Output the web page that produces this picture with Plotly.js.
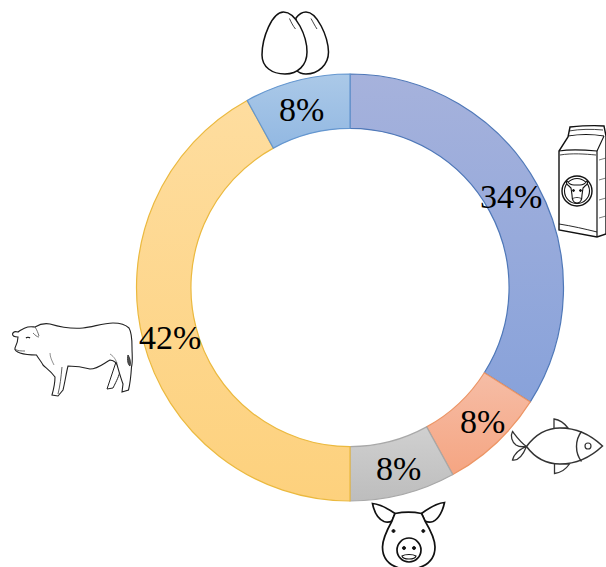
<!DOCTYPE html>
<html>
<head>
<meta charset="utf-8">
<script src="https://cdn.plot.ly/plotly-3.0.1.min.js"></script>
<style>html,body{margin:0;padding:0;background:#fff}#chart{width:606px;height:567px}</style>
</head>
<body>
<div id="chart"></div>
<script>
// Protein sources, clockwise from twelve o'clock
const sources = ['Milk', 'Fish', 'Pork', 'Beef', 'Eggs'];
const shares = [34, 8, 8, 42, 8];
const fillColors = ['#99abdb', '#f5b195', '#c7c7c7', '#fdd68c', '#9fc1e6'];
const edgeColors = ['#4f78b8', '#ec9565', '#a8a8a8', '#ebb93f', '#6496cf'];
const gradientStops = [
  ['#a6b2dc', '#88a2da'], ['#f6bda6', '#f5a582'], ['#d0d0d0', '#bdbdbd'],
  ['#fedd9f', '#fdd17d'], ['#abc9e8', '#92b8e2']
];

const W = 606, H = 567;

// Line icons are authored in page pixels and converted to paper coordinates
function toPaper(d) {
  return d.replace(/(-?[\d.]+)[ ,](-?[\d.]+)/g, (m, x, y) =>
    (parseFloat(x) / W).toFixed(5) + ',' + (1 - parseFloat(y) / H).toFixed(5));
}
function icon(d, width, fill, color) {
  return {
    type: 'path', xref: 'paper', yref: 'paper', layer: 'above', path: toPaper(d),
    line: {color: color || '#111', width: width}, fillcolor: fill || 'rgba(0,0,0,0)'
  };
}
function dot(cx, cy, r) {
  const k = r * 0.55;
  return `M${cx - r} ${cy} C${cx - r} ${cy - k} ${cx - k} ${cy - r} ${cx} ${cy - r} ` +
    `C${cx + k} ${cy - r} ${cx + r} ${cy - k} ${cx + r} ${cy} ` +
    `C${cx + r} ${cy + k} ${cx + k} ${cy + r} ${cx} ${cy + r} ` +
    `C${cx - k} ${cy + r} ${cx - r} ${cy + k} ${cx - r} ${cy} Z`;
}

const eggs = [
  icon('M306 12 C317 12 328 36 328.5 52 C328.5 65 318 74 306 74 C303 74 299 73 296 70 L296 18 C299 14 303 12 306 12 Z', 1.5, '#fff'),
  icon('M283.5 12 C272 12 262 38 262 55 C262 67 272 74 285 74 C298 74 307 65 307 52 C307 36 296 12 283.5 12 Z', 1.5, '#fff'),
  icon('M289.5 18.5 C291 22 293 26 295.5 29', 0.8),
  icon('M311 18.5 C313 22 315 26 317 29', 0.8)
];

const carton = [
  icon('M559 151 L559 230 L597 237 L606 234 L606 136 L604 126 C592 125 580 126 570 127 L568 137 Z', 1.4, '#fff'),
  icon('M568 136 C580 134 592 134 604 136', 1.1),
  icon('M569 131 C580 129 592 129 603 130', 0.8),
  icon('M559 151 C572 149 585 150 597 151 L597 237', 1.2),
  icon('M597 151 L604 136', 1.1),
  icon('M560 155 C572 153 585 154 596 155', 0.8),
  icon('M559 224 C572 226 585 229 597 232', 0.9),
  icon('M599 160 L606 158 M599 180 L606 178 M599 200 L606 198 M599 218 L606 216', 0.7, null, '#444'),
  icon(dot(577, 191, 15), 1.4, '#fff'),
  icon(dot(577, 191, 12.5), 1.1, '#fff'),
  icon('M569 186 C566 184 566 182 567 181 C569 184 572 185 574 185 L580 185 C582 185 585 184 587 181 C588 182 588 184 585 186 L583 188 L582 195 C582 200 580 203 577 203 C574 203 572 200 572 195 L571 188 Z', 1.1, '#fff'),
  icon('M572 199 C575 197 579 197 582 199', 0.8),
  icon(dot(573.5, 190.5, 1), 1, '#111'),
  icon(dot(580.5, 190.5, 1), 1, '#111')
];

const fish = [
  icon('M526.5 446.5 C520 442 516 436 512.5 431.5 C510 436 512 442 516 445 C519 447 523 447 526.5 446.5 C520 449 514 454 512.5 460 C518 461 523 455 526.5 446.5 Z', 1.3, '#fff', '#333'),
  icon('M554 429 L554 419 C560 420 565 424 568 428 Z', 1.3, '#fff', '#333'),
  icon('M554.5 463 L554.5 473.5 C560 473 566 469 569.5 464 Z', 1.3, '#fff', '#333'),
  icon('M526.5 446.5 C535 435 547 428 560 428 C578 428 592 436 602.5 446 C592 456 578 464 560 464 C547 464 535 458 526.5 446.5 Z', 1.5, '#fff', '#333'),
  icon('M581.5 431.5 C578 436 576.5 441 576.5 446.5 C576.5 452 578 457 581.5 461.5', 1.4, null, '#333'),
  icon(dot(588, 446, 3), 1.2, '#fff', '#333')
];

const pig = [
  icon('M395 513.5 C387 508 380 504 372.5 503.5 C374 511 378 519 384 521.5 C387 522.5 390 522 392 521 Z', 1.7, '#fff'),
  icon('M421.5 513.5 C429 508 437 503 444.5 502.5 C443 510 439 519 433 521.5 C430 522.5 427 522 425 521 Z', 1.7, '#fff'),
  icon('M395 513.5 C403 512 414 512 421.5 513.5 C423 516 424 519 425 521 C431 531 435 539 435 547 C435 558 428 565 418 568 L399 568 C389 565 382.5 558 382.5 547 C382.5 539 387 530 392 521 C393 518 394 516 395 513.5 Z', 1.7, '#fff'),
  icon(dot(409, 550, 12), 1.7, '#fff'),
  icon(dot(393.5, 531, 1.5), 1, '#111'),
  icon(dot(423.3, 531, 1.5), 1, '#111'),
  icon(dot(404, 548, 1.6), 1, '#111'),
  icon(dot(414, 548, 1.6), 1, '#111'),
  icon('M402 556 C405 554 413 554 416 556 C415 560 403 560 402 556 Z', 1.1, '#fff')
];

const cattle = [
  icon('M116 362 L107 389 L113 388 C117 380 119 376 120 371 Z', 1, '#fff', '#222'),
  icon('M25 328 C29 326 33 327 35 327 C40 324 45 323 50 324 C60 327 72 329 83 328 C93 327 103 323 113 323 C120 323 126 325 129 328 C132 333 132 340 132 347 C132 355 133 361 131.5 367 C131 375 130 384 128.5 390 L122 392 L123 384 C120 376 118 368 116.5 363 C114 361 112 360 110 360 C104 363 98 369 90 369 C83 367 76 366 68 366 C66 374 65 382 63 390 L58 396 L52 395 C54 388 55 382 55 377 C51 371 46 368 43 365 C41 361 38 358 36.5 355 C32 355 26 355 20 353 C17 352 14 350 15 348 C17 344 18 340 18 337 C15 337 12.5 336 12.5 334 C13 332 15 331 18 332 C20 330 23 329 25 328 Z', 1.1, '#fff', '#222'),
  icon('M35 327 C37 330 38 333 39 336 M33 333 C35 335 37 337 39 337', 0.7, null, '#333'),
  icon('M26 338 C27 337 29 337 30 338', 1.2),
  icon('M15 349 C17 351 22 351 25 351', 0.7, null, '#333'),
  icon('M128 355 C130 358 131 362 130 366 C128 365 127 360 128 355 Z', 1, '#555', '#333'),
  icon('M58 394 C60 386 61 378 62 367', 0.8, null, '#333'),
  icon('M50 353 C50 357 52 361 54 365 M117 363 C115 358 113 356 110 354', 0.6, null, '#444')
];

// Percentage labels sit freely over the ring, so they are annotations rather than slice text
const labelSpots = [[511, 196], [482, 421], [398, 468], [170, 337], [301, 109.5]];
const annotations = shares.map((v, i) => ({
  text: v + '%', xref: 'paper', yref: 'paper', showarrow: false,
  x: labelSpots[i][0] / W, y: 1 - labelSpots[i][1] / H, xanchor: 'center', yanchor: 'middle',
  font: {family: 'Liberation Serif', size: 34, color: '#000'}
}));

const cx = 350, cy = 287.5, outer = 213.5;

const traces = [{
  type: 'pie', labels: sources, values: shares, sort: false, direction: 'clockwise', rotation: 0,
  hole: 0.745, textinfo: 'none', hoverinfo: 'label+percent', showlegend: false,
  domain: {x: [(cx - outer) / W, (cx + outer) / W], y: [1 - (cy + outer) / H, 1 - (cy - outer) / H]},
  marker: {colors: fillColors, line: {color: edgeColors, width: 1.2}}
}];

const layout = {
  width: W, height: H, margin: {l: 0, r: 0, t: 0, b: 0},
  paper_bgcolor: '#fff', plot_bgcolor: '#fff', showlegend: false,
  annotations: annotations,
  shapes: [].concat(eggs, carton, fish, pig, cattle)
};

Plotly.newPlot('chart', traces, layout, {displayModeBar: false, responsive: false}).then(gd => {
  // Soft top-to-bottom shading on each ring segment
  const svg = gd.querySelector('.main-svg');
  const ns = 'http://www.w3.org/2000/svg';
  const defs = svg.querySelector('defs') || svg.insertBefore(document.createElementNS(ns, 'defs'), svg.firstChild);
  gd.querySelectorAll('.slice path.surface').forEach((path, i) => {
    const g = document.createElementNS(ns, 'linearGradient');
    g.setAttribute('id', 'ring-shade-' + i);
    g.setAttribute('x1', '0'); g.setAttribute('x2', '0');
    g.setAttribute('y1', '0'); g.setAttribute('y2', '1');
    gradientStops[i].forEach((c, j) => {
      const s = document.createElementNS(ns, 'stop');
      s.setAttribute('offset', j ? '1' : '0');
      s.setAttribute('stop-color', c);
      g.appendChild(s);
    });
    defs.appendChild(g);
    path.style.fill = 'url(#ring-shade-' + i + ')';
  });
});
</script>
</body>
</html>
